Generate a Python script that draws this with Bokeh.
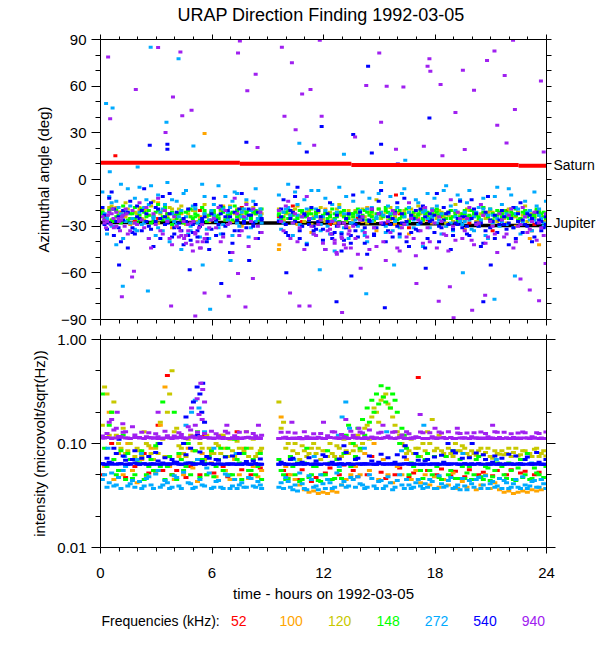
from bokeh.plotting import figure
from bokeh.models import Range1d, LinearAxis, LogAxis, LogScale, FixedTicker, PrintfTickFormatter
from bokeh.layouts import column
from bokeh.embed import file_html
from bokeh.resources import INLINE
from bokeh.core.properties import value

N = None
FONT = "Liberation Sans"

TITLE = "URAP Direction Finding  1992-03-05"
X_LABEL = "time - hours on 1992-03-05"
AZ_LABEL = "Azimuthal angle (deg)"
INT_LABEL = "intensity (microvolt/sqrt(Hz))"
LEGEND_TITLE = "Frequencies (kHz):"
freqs = ["52", "100", "120", "148", "272", "540", "940"]
freq_colors = ["#ff0000", "#ffa500", "#c8c800", "#00ff00", "#00aaff", "#0000ff", "#a020f0"]

hour_ticks = [0, 6, 12, 18, 24]
hour_minor = [1, 2, 3, 4, 5, 7, 8, 9, 10, 11, 13, 14, 15, 16, 17, 19, 20, 21, 22, 23]
az_ticks = [-90, -60, -30, 0, 30, 60, 90]
az_minor = [-80, -70, -50, -40, -20, -10, 10, 20, 40, 50, 70, 80]
int_ticks = [0.01, 0.1, 1.0]
int_minor = [0.02, 0.05, 0.2, 0.5]

# planet reference directions (deg)
saturn_start = [0, 7.5, 13.5, 22.5]
saturn_end = [7.5, 13.5, 22.5, 24]
saturn_deg = [10.7, 10.1, 9.4, 8.8]
jupiter_start = [0, 7.5, 13.5, 19.5]
jupiter_end = [7.5, 13.5, 19.5, 24]
jupiter_deg = [-27.6, -27.9, -28.5, -29.5]
planet_names = ["Saturn", "Jupiter"]
planet_label_deg = [9.2, -28.2]

# sample times (hours)
hours_a = [
    0.1, 0.35, 0.6, 0.85, 1.1, 1.35, 1.6, 1.85,
    2.1, 2.35, 2.6, 2.85, 3.1, 3.35, 3.6, 3.85,
    4.1, 4.35, 4.6, 4.85, 5.1, 5.35, 5.6, 5.85,
    6.1, 6.35, 6.6, 6.85, 7.1, 7.35, 7.6, 7.85,
    8.1, 8.35, 8.6,
    9.6, 9.85, 10.1, 10.35, 10.6, 10.85, 11.1, 11.35,
    11.6, 11.85, 12.1, 12.35, 12.6, 12.85, 13.1, 13.35,
    13.6, 13.85, 14.1, 14.35, 14.6, 14.85, 15.1, 15.35,
    15.6, 15.85, 16.1, 16.35, 16.6, 16.85, 17.1, 17.35,
    17.6, 17.85, 18.1, 18.35, 18.6, 18.85, 19.1, 19.35,
    19.6, 19.85, 20.1, 20.35, 20.6, 20.85, 21.1, 21.35,
    21.6, 21.85, 22.1, 22.35, 22.6, 22.85, 23.1, 23.35,
    23.6, 23.85,
]
hours_b = [
    0.22, 0.47, 0.72, 0.97, 1.22, 1.47, 1.72, 1.97,
    2.22, 2.47, 2.72, 2.97, 3.22, 3.47, 3.72, 3.97,
    4.22, 4.47, 4.72, 4.97, 5.22, 5.47, 5.72, 5.97,
    6.22, 6.47, 6.72, 6.97, 7.22, 7.47, 7.72, 7.97,
    8.22, 8.47, 8.67,
    9.72, 9.97, 10.22, 10.47, 10.72, 10.97, 11.22, 11.47,
    11.72, 11.97, 12.22, 12.47, 12.72, 12.97, 13.22, 13.47,
    13.72, 13.97, 14.22, 14.47, 14.72, 14.97, 15.22, 15.47,
    15.72, 15.97, 16.22, 16.47, 16.72, 16.97, 17.22, 17.47,
    17.72, 17.97, 18.22, 18.47, 18.72, 18.97, 19.22, 19.47,
    19.72, 19.97, 20.22, 20.47, 20.72, 20.97, 21.22, 21.47,
    21.72, 21.97, 22.22, 22.47, 22.72, 22.97, 23.22, 23.47,
    23.72, 23.97,
]

# ---------------- azimuth (deg) ----------------
az_52_a = [
    N, -24, N, N, -21, N, N, -27,
    N, -19, N, N, -25, N, -22, N,
    N, N, -28, N, N, -20, N, N,
    -23, N, N, -26, N, N, -18, N,
    N, -22, N,
    -24, N, N, -17, N, -27, N, N,
    -21, N, N, -29, N, N, -23, N,
    N, -25, N, N, -20, N, N, -28,
    N, N, -22, N, -31, N, N, -19,
    -26, N, N, -24, N, N, -21, N,
    N, -28, N, N, -23, N, -33, N,
    N, -20, N, N, -26, N, N, -29,
    -22, N,
]
az_52_x_h = [0.8, 15.9, 23.2]
az_52_x_v = [15.2, -10, -33]

az_100_a = [
    -21, N, -26, -18, N, -24, -29, N,
    -20, -27, N, -23, -15, N, -25, -31,
    N, -22, -28, N, -19, -24, N, -27,
    -23, N, -17, -26, N, -21, -30, N,
    -24, N, -20,
    -45, -26, N, -20, -29, N, -23, -34,
    N, -25, -19, N, -28, -22, N, -31,
    -24, N, -27, -18, N, -33, -21, N,
    -26, -29, N, -22, -35, N, -25, -19,
    N, -28, -23, N, -30, -20, N, -26,
    -32, N, -24, -27, N, -21, -29, N,
    -25, -22, N, -30, -26, N, -38, -23,
    N, -27,
]
az_100_x_h = [5.6, 9.62, 23.6]
az_100_x_v = [29.5, -42, -42]

az_120_a = [
    -20, -24, -17, -27, -22, -15, -25, -21,
    -18, -26, -23, -14, -28, -20, -24, -19,
    -22, -17, -29, -24, -20, -26, -16, -23,
    -21, -25, -18, -23, -27, -19, -22, -15,
    -24, -20, -26,
    -19, -26, -22, -28, -17, -24, -21, -29,
    -23, -18, -27, -21, -25, -16, -24, -20,
    -26, -22, -19, -28, -23, -13, -25, -21,
    -18, -24, -30, -20, -26, -22, -17, -27,
    -23, -19, -25, -21, -28, -24, -16, -22,
    -26, -20, -23, -29, -18, -25, -21, -27,
    -22, -28, -19, -24, -26, -17, -23, -25,
    -20, -27,
]
az_120_b = [
    -23, -18, -26, -21, -24, -19, -28, -22,
    -25, -20, -17, -27, -22, -24, -18, -26,
    -19, -25, -22, -20, -27, -18, -24, -21,
    -24, -20, -26, -17, -22, -25, -20, -23,
    -18, -25, -22,
    -27, -22, -25, -19, -23, -27, -20, -24,
    -21, -25, -22, -26, -19, -23, -27, -22,
    -20, -26, -24, -21, -27, -19, -23, -26,
    -25, -21, -23, -27, -19, -24, -22, -20,
    -26, -22, -20, -24, -23, -27, -21, -25,
    -19, -24, -27, -22, -25, -20, -24, -22,
    -25, -19, -24, -21, -23, -27, -22, -20,
    -24, -22,
]

az_148_a = [
    -22, -26, -19, -24, -28, -21, -25, -18,
    -23, -27, -20, -24, -16, -26, -22, -29,
    -25, -21, -27, -19, -24, -30, -22, -26,
    -20, -23, -18, -25, -21, -24, -19, -22,
    -23, -20, -25,
    -22, -24, -20, -23, -25, -21, -24, -19,
    -23, -26, -21, -24, -22, -27, -20, -25,
    -24, -19, -23, -26, -21, -25, -22, -18,
    -25, -22, -20, -24, -27, -21, -23, -26,
    -21, -24, -19, -22, -25, -20, -23, -27,
    -22, -25, -21, -24, -18, -23, -26, -20,
    -24, -21, -23, -19, -25, -22, -20, -24,
    -23, -21,
]
az_148_b = [
    -25, -20, -27, -23, -17, -26, -22, -28,
    -19, -24, -28, -21, -25, -18, -26, -23,
    -22, -28, -20, -25, -23, -18, -27, -21,
    -24, -19, -26, -22, -17, -23, -25, -20,
    -21, -26, -19,
    -25, -21, -23, -26, -20, -24, -22, -25,
    -20, -23, -25, -19, -24, -21, -26, -22,
    -21, -25, -20, -23, -26, -19, -24, -21,
    -22, -26, -24, -19, -23, -25, -20, -22,
    -25, -20, -23, -26, -21, -24, -27, -22,
    -24, -20, -23, -26, -22, -19, -24, -21,
    -20, -25, -22, -26, -21, -24, -23, -19,
    -22, -25,
]
az_148_c = [
    -21, -24, -26, -20, -23, -27, -22, -25,
    -26, -21, -23, -27, -20, -24, -25, -21,
    -23, -26, -21, -24, -22, -26, -20, -23,
    -22, -25, -21, -23, -26, -20, -24, -21,
    -25, -22, -24,
    -23, -21, -25, -22, -24, -20, -23, -22,
    -21, -24, -22, -23, -25, -21, -24, -23,
    -22, -23, -25, -21, -24, -22, -23, -20,
    -23, -20, -25, -22, -21, -24, -22, -25,
    -24, -22, -21, -23, -22, -25, -21, -24,
    -20, -23, -22, -25, -21, -24, -22, -23,
    -22, -24, -21, -23, -25, -20, -23, -22,
    -21, -24,
]

az_272_a = [
    -8, -35, -15, -42, -3, -20, -28, -12,
    -5, -18, -38, -25, -10, -33, -2, -22,
    -14, -45, -7, -30, -19, -37, -11, -26,
    -16, -4, -29, -21, -36, -9, -24, -13,
    -31, -6, -19,
    -10, -28, -3, -36, -16, -24, -41, -7,
    -19, -33, -12, -27, -46, -5, -22, -38,
    -14, -30, -8, -40, -18, -25, -2, -34,
    -11, -26, -37, -6, -21, -31, -15, -43,
    -9, -24, -17, -35, -4, -28, -20, -13,
    -27, -7, -33, -18, -12, -38, -23, -5,
    -16, -29, -10, -22, -35, -14, -26, -8,
    -19, -30,
]
az_272_b = [
    -22, -11, -30, -18, -38, -6, -25, -33,
    -29, -13, -4, -36, -21, -16, -40, -27,
    -24, -9, -35, -17, -28, -3, -32, -20,
    -27, -35, -11, -18, -8, -30, -19, -37,
    -14, -25, -28,
    -32, -19, -23, -8, -29, -13, -26, -35,
    -7, -24, -30, -16, -21, -34, -11, -28,
    -26, -20, -36, -12, -31, -9, -23, -17,
    -33, -18, -9, -29, -24, -13, -27, -20,
    -31, -12, -26, -7, -22, -33, -10, -29,
    -15, -32, -21, -26, -36, -19, -11, -30,
    -24, -6, -31, -19, -27, -21, -33, -17,
    -25, -14,
]
az_272_c = [
    -18, -25, -30, -14, -22, -27, -17, -32,
    -21, -28, -16, -24, -31, -19, -26, -13,
    -29, -20, -24, -33, -17, -27, -22, -38,
    -23, -31, -19, -26, -14, -28, -21, -25,
    -20, -27, -23,
    -26, -21, -18, -28, -23, -30, -19, -25,
    -24, -29, -20, -35, -26, -18, -31, -22,
    -28, -23, -33, -19, -27, -24, -21, -30,
    -22, -27, -31, -24, -18, -26, -29, -21,
    -25, -19, -28, -22, -30, -17, -24, -27,
    -21, -26, -24, -30, -19, -23, -28, -25,
    -27, -22, -25, -18, -29, -24, -20, -26,
    -23, -28,
]
az_272_x_h = [0.3, 0.65, 2.7, 4.2, 3.55, 5.0, 10.7, 13.1, 16.4, 1.2, 2.55, 5.9, 14.3, 21.2,
              0.5, 2.0, 5.5, 11.8, 19.5, 22.3, 7.0, 15.8]
az_272_x_v = [48.8, 46, 85, 77.7, 36.8, 21.6, 23.3, 16.3, 12.4, -68.6, -71.6, -83.4, -73.5, -77,
              5, 8, -55, -58, -60, -62, -52, -55]

az_540_a = [
    -18, -32, -8, -27, -40, -22, -14, -35,
    -25, -6, -30, -43, -19, -11, -28, -37,
    -21, -33, -27, -39, -16, -30, -24, -45,
    -12, -29, -35, -20, -41, -26, -9, -31,
    -23, -16, -34,
    -27, -13, -36, -21, -5, -30, -42, -18,
    -32, -24, -45, -15, -34, -28, -39, -22,
    -10, -37, -26, -48, -19, -31, -7, -40,
    -29, -21, -35, -12, -43, -25, -33, -17,
    -38, -26, -9, -31, -22, -45, -28, -14,
    -24, -36, -19, -30, -41, -11, -27, -34,
    -20, -32, -25, -38, -15, -29, -23, -37,
    -26, -31,
]
az_540_b = [
    -29, -12, -36, -24, -20, -44, -31, -17,
    -33, -22, -15, -27, -38, -24, -9, -31,
    -28, -42, -19, -34, -37, -25, -40, -32,
    -36, -17, -24, -47, -21, -33, -28, -19,
    -30, -38, -25,
    -19, -34, -25, -11, -38, -23, -29, -33,
    -20, -39, -27, -35, -23, -46, -31, -36,
    -33, -21, -41, -27, -36, -14, -29, -24,
    -37, -15, -28, -40, -23, -32, -19, -44,
    -22, -34, -40, -18, -29, -36, -25, -31,
    -35, -13, -28, -43, -21, -31, -38, -26,
    -29, -42, -18, -27, -34, -22, -40, -28,
    -33, -24,
]
az_540_c = [
    -23, -28, -19, -31, -26, -21, -34, -24,
    -20, -27, -32, -18, -25, -29, -22, -35,
    -31, -25, -36, -29, -33, -27, -38, -22,
    -26, -22, -30, -24, -33, -19, -27, -23,
    -28, -21, -26,
    -24, -29, -20, -27, -33, -22, -26, -30,
    -27, -32, -22, -38, -30, -35, -25, -41,
    -29, -24, -31, -26, -35, -22, -28, -33,
    -25, -30, -22, -27, -34, -20, -28, -24,
    -27, -23, -30, -26, -21, -32, -29, -24,
    -30, -25, -22, -28, -33, -26, -23, -29,
    -24, -28, -31, -22, -26, -30, -25, -21,
    -27, -29,
]
az_540_x_h = [3.6, 3.6, 2.65, 11.1, 11.9, 7.85, 14.4, 17.7, 13.6, 15.1, 14.6, 6.5, 12.7, 15.3, 20.6,
              1.0, 4.8, 10.0, 13.5, 17.5, 21.0, 8.0, 16.0]
az_540_x_v = [22.7, 19.5, 22, 17.7, 34, 24, 72.8, 39.6, 29, 22.7, 17, -66.8, -78.6, -82.5, -78.6,
              -55, -58, -60, -62, -57, -55, -52, 10]

az_940_a = [
    -24, -27, -22, -30, -26, -19, -33, -28,
    -15, -31, -38, -22, -12, -35, -27, -42,
    -30, -36, -41, -28, -34, -44, -38, -31,
    -25, -18, -37, -29, -47, -22, -33, -16,
    -27, -38, -21,
    -20, -33, -14, -28, -40, -24, -11, -30,
    -36, -26, -45, -32, -39, -28, -42, -35,
    -30, -48, -24, -37, -19, -43, -28, -52,
    -34, -22, -46, -29, -15, -38, -26, -41,
    -31, -20, -44, -27, -36, -13, -39, -25,
    -33, -18, -42, -28, -23, -37, -30, -47,
    -26, -35, -19, -40, -29, -24, -32, -21,
    -28, -36,
]
az_940_b = [
    -28, -21, -31, -25, -23, -35, -20, -29,
    -26, -18, -44, -29, -33, -20, -38, -24,
    -37, -27, -33, -46, -40, -29, -35, -26,
    -31, -40, -20, -28, -12, -36, -24, -43,
    -19, -30, -34,
    -27, -17, -38, -22, -31, -45, -25, -35,
    -29, -41, -33, -27, -48, -37, -30, -44,
    -38, -26, -34, -45, -31, -22, -40, -27,
    -20, -44, -31, -37, -25, -49, -33, -18,
    -40, -28, -24, -35, -46, -30, -21, -38,
    -25, -39, -29, -16, -41, -27, -35, -22,
    -37, -23, -44, -30, -18, -34, -27, -39,
    -31, -22,
]
az_940_c_h = [0.2, 0.4, 0.55, 0.7, 0.85, 1.0, 1.15, 1.3, 0.3, 0.65, 1.05, 1.4,
              4.3, 4.5, 4.7, 4.9, 5.1, 5.3, 5.5, 4.6, 5.0, 5.4,
              12.4, 12.6, 12.8, 13.0, 13.2, 13.4, 12.7, 13.1]
az_940_c_v = [-26, -23, -29, -25, -21, -27, -24, -30, -31, -19, -33, -22,
              -33, -38, -29, -42, -35, -31, -40, -36, -27, -44,
              -35, -41, -30, -38, -44, -33, -47, -28]
az_940_x_h = [0.41, 0.52, 1.9, 3.1, 3.5, 3.9, 4.3, 4.4, 4.9, 7.4, 7.5, 7.9, 8.35, 8.45,
              9.76, 9.9, 10.3, 10.5, 10.85, 11.3, 11.5, 11.8, 11.9, 13.7, 14.3, 15.0, 15.1,
              15.4, 15.9, 16.3, 17.4, 17.6, 17.7, 17.75, 18.3, 18.4, 19.1, 19.5, 19.6, 20.1,
              20.8, 21.2, 21.35, 21.75, 21.85, 22.2, 22.3, 23.7, 23.85,
              1.7, 1.15, 5.1, 3.8, 6.9, 7.8, 7.4, 10.2, 10.7, 11.25, 13.0, 18.2, 19.0, 20.0,
              20.7, 23.6, 23.95, 1.8, 5.6, 8.2, 14.0, 17.0, 18.8, 23.1, 22.6]
az_940_x_v = [78.8, 39, 57.8, 84.8, 30.2, 53, 82, 41, 44.5, 81.4, 89, 57, 67.7, 20.6,
              85, 40.7, 75, 32, 55, 57.8, 22, 89.5, 40.7, 27.4, 60.4, 81.4, 36.8,
              60, 19.5, 59.5, 21.4, 72.8, 77.7, 69.6, 61, 15.2, 43, 70.2, 19.3, 57.4,
              76.5, 82.6, 34.9, 66.8, 23.5, 89.5, 45, 63.4, 17.7,
              -62.6, -75.4, -87.7, -81.4, -75, -82, -60.4, -72.9, -81.4, -81.4, -85.5, -78.2, -88.9, -84,
              -74.4, -78, -54, -59, -72.9, -63.6, -57, -66.8, -69, -71, -64]

# ---------------- intensity (microvolt/sqrt(Hz)) ----------------
int_52_a = [
    0.05, N, 0.1, N, 0.055, 0.047, N, 0.06,
    N, 0.08, 0.052, N, 0.15, 0.055, 0.45, 0.05,
    0.055, N, 0.047, 0.06, N, 0.05, 0.12, N,
    0.052, N, 0.06, 0.048, N, 0.13, 0.056, N,
    0.05, N, 0.058,
    N, 0.055, 0.05, N, 0.045, 0.056, N, 0.043,
    0.047, N, 0.052, 0.058, N, 0.05, 0.062, N,
    0.055, 0.048, N, 0.05, 0.075, N, 0.053, 0.046,
    N, 0.05, 0.058, N, 0.047, 0.052, 0.43, N,
    0.055, N, 0.05, 0.057, N, 0.049, 0.054, N,
    0.048, 0.056, N, 0.05, 0.053, N, 0.049, 0.055,
    N, 0.05, 0.056, N, 0.052, 0.054, N, 0.05,
    0.053, N,
]
int_100_a = [
    0.06, 0.2, 0.045, 0.08, 0.05, 0.1, 0.055, 0.042,
    0.07, 0.047, 0.09, 0.052, 0.15, 0.35, 0.06, 0.045,
    0.075, 0.05, 0.09, 0.058, 0.043, 0.08, 0.05, 0.065,
    0.048, 0.12, 0.055, 0.045, 0.07, 0.05, 0.09, 0.046,
    0.06, 0.048, 0.055,
    0.18, 0.06, 0.05, 0.045, 0.04, 0.036, 0.034, 0.035,
    0.033, 0.034, 0.033, 0.035, 0.034, 0.04, 0.045, 0.05,
    0.06, 0.05, 0.08, 0.055, 0.1, 0.045, 0.07, 0.05,
    0.042, 0.06, 0.05, 0.07, 0.045, 0.055, 0.042, 0.05,
    0.04, 0.048, 0.038, 0.045, 0.04, 0.052, 0.037, 0.043,
    0.038, 0.045, 0.036, 0.04, 0.05, 0.037, 0.042, 0.036,
    0.034, 0.035, 0.033, 0.034, 0.035, 0.034, 0.036, 0.035,
    0.036, 0.037,
]
int_120_a = [
    0.15, 0.3, 0.2, 0.12, 0.09, 0.08, 0.1, 0.075,
    0.085, 0.13, 0.095, 0.07, 0.08, 0.11, 0.2, 0.5,
    0.14, 0.09, 0.075, 0.12, 0.085, 0.1, 0.07, 0.09,
    0.08, 0.095, 0.12, 0.075, 0.085, 0.105, 0.08, 0.13,
    0.09, 0.075, 0.085,
    0.25, 0.16, 0.1, 0.085, 0.08, 0.095, 0.075, 0.09,
    0.08, 0.07, 0.085, 0.1, 0.075, 0.09, 0.11, 0.08,
    0.085, 0.12, 0.1, 0.15, 0.18, 0.2, 0.26, 0.3,
    0.22, 0.15, 0.12, 0.095, 0.085, 0.08, 0.09, 0.1,
    0.13, 0.17, 0.09, 0.085, 0.075, 0.08, 0.1, 0.085,
    0.09, 0.075, 0.08, 0.085, 0.078, 0.09, 0.072, 0.08,
    0.085, 0.08, 0.075, 0.09, 0.078, 0.085, 0.08, 0.088,
    0.075, 0.085,
]
int_120_b = [
    0.35, 0.12, 0.25, 0.1, 0.14, 0.085, 0.07, 0.09,
    0.075, 0.1, 0.08, 0.09, 0.16, 0.075, 0.3, 0.13,
    0.095, 0.08, 0.11, 0.085, 0.07, 0.09, 0.12, 0.08,
    0.1, 0.08, 0.09, 0.11, 0.075, 0.09, 0.085, 0.075,
    0.11, 0.08, 0.09,
    0.14, 0.09, 0.075, 0.1, 0.07, 0.085, 0.08, 0.1,
    0.09, 0.085, 0.075, 0.08, 0.095, 0.075, 0.085, 0.1,
    0.095, 0.085, 0.14, 0.11, 0.22, 0.16, 0.28, 0.24,
    0.18, 0.13, 0.1, 0.08, 0.11, 0.09, 0.075, 0.085,
    0.1, 0.085, 0.12, 0.08, 0.09, 0.075, 0.085, 0.095,
    0.08, 0.085, 0.077, 0.09, 0.082, 0.075, 0.085, 0.079,
    0.078, 0.09, 0.082, 0.076, 0.085, 0.08, 0.075, 0.09,
    0.08, 0.076,
]
int_148_a = [
    0.09, 0.15, 0.07, 0.055, 0.12, 0.08, 0.046, 0.065,
    0.085, 0.05, 0.07, 0.095, 0.06, 0.045, 0.075, 0.2,
    0.08, 0.055, 0.1, 0.065, 0.13, 0.07, 0.05, 0.085,
    0.06, 0.09, 0.075, 0.05, 0.11, 0.065, 0.08, 0.055,
    0.07, 0.06, 0.045,
    0.055, 0.045, 0.075, 0.05, 0.043, 0.065, 0.047, 0.06,
    0.044, 0.05, 0.085, 0.045, 0.07, 0.046, 0.12, 0.06,
    0.075, 0.09, 0.12, 0.16, 0.2, 0.24, 0.28, 0.34,
    0.3, 0.2, 0.14, 0.09, 0.065, 0.08, 0.055, 0.07,
    0.055, 0.075, 0.047, 0.065, 0.05, 0.085, 0.046, 0.06,
    0.052, 0.045, 0.07, 0.048, 0.06, 0.044, 0.055, 0.046,
    0.05, 0.065, 0.045, 0.058, 0.047, 0.08, 0.046, 0.052,
    0.045, 0.06,
]
int_148_b = [
    0.3, 0.06, 0.2, 0.05, 0.085, 0.045, 0.07, 0.05,
    0.065, 0.045, 0.06, 0.055, 0.1, 0.25, 0.06, 0.05,
    0.045, 0.07, 0.06, 0.05, 0.085, 0.047, 0.065, 0.075,
    0.048, 0.07, 0.055, 0.09, 0.05, 0.07, 0.045, 0.09,
    0.055, 0.05, 0.08,
    0.07, 0.05, 0.046, 0.06, 0.065, 0.045, 0.09, 0.05,
    0.06, 0.043, 0.05, 0.065, 0.046, 0.055, 0.08, 0.15,
    0.1, 0.14, 0.17, 0.22, 0.26, 0.3, 0.36, 0.25,
    0.22, 0.26, 0.1, 0.12, 0.05, 0.06, 0.075, 0.046,
    0.08, 0.05, 0.06, 0.045, 0.075, 0.055, 0.046, 0.07,
    0.046, 0.06, 0.05, 0.075, 0.045, 0.058, 0.048, 0.065,
    0.06, 0.046, 0.055, 0.044, 0.07, 0.05, 0.045, 0.058,
    0.05, 0.047,
]
int_272_a = [
    0.045, 0.038, 0.052, 0.04, 0.037, 0.06, 0.041, 0.038,
    0.043, 0.039, 0.048, 0.037, 0.055, 0.04, 0.042, 0.038,
    0.047, 0.037, 0.065, 0.041, 0.038, 0.045, 0.039, 0.052,
    0.038, 0.044, 0.037, 0.049, 0.039, 0.037, 0.042, 0.038,
    0.046, 0.038, 0.04,
    0.038, 0.037, 0.043, 0.036, 0.035, 0.041, 0.036, 0.045,
    0.039, 0.05, 0.037, 0.042, 0.038, 0.06, 0.043, 0.039,
    0.045, 0.048, 0.04, 0.038, 0.046, 0.037, 0.044, 0.039,
    0.042, 0.038, 0.05, 0.037, 0.04, 0.038, 0.045, 0.037,
    0.038, 0.043, 0.037, 0.041, 0.039, 0.047, 0.038, 0.036,
    0.039, 0.044, 0.038, 0.047, 0.04, 0.037, 0.043, 0.039,
    0.037, 0.042, 0.038, 0.045, 0.037, 0.04, 0.039, 0.044,
    0.038, 0.041,
]
int_272_b = [
    0.05, 0.042, 0.039, 0.047, 0.055, 0.039, 0.044, 0.07,
    0.037, 0.046, 0.04, 0.051, 0.038, 0.044, 0.037, 0.049,
    0.039, 0.053, 0.042, 0.037, 0.07, 0.04, 0.058, 0.037,
    0.043, 0.038, 0.051, 0.037, 0.045, 0.04, 0.038, 0.047,
    0.039, 0.043, 0.037,
    0.042, 0.047, 0.038, 0.04, 0.052, 0.037, 0.049, 0.038,
    0.036, 0.041, 0.045, 0.037, 0.052, 0.04, 0.038, 0.047,
    0.038, 0.041, 0.037, 0.05, 0.039, 0.043, 0.037, 0.048,
    0.036, 0.044, 0.04, 0.045, 0.037, 0.042, 0.039, 0.041,
    0.045, 0.037, 0.049, 0.038, 0.044, 0.037, 0.04, 0.046,
    0.036, 0.041, 0.045, 0.037, 0.049, 0.041, 0.038, 0.046,
    0.044, 0.037, 0.041, 0.038, 0.048, 0.037, 0.043, 0.038,
    0.045, 0.037,
]
int_272_x_h = [0.4, 1.3, 2.2, 4.6, 4.9, 5.1, 5.3, 5.6, 6.1, 7.3, 10.4, 11.5, 12.8, 13.0, 13.2,
               13.4, 14.2, 15.4, 16.2, 17.4, 19.5, 21.3, 23.2]
int_272_x_v = [0.09, 0.075, 0.08, 0.15, 0.2, 0.26, 0.22, 0.13, 0.09, 0.08, 0.07, 0.075, 0.12, 0.18, 0.25,
               0.14, 0.09, 0.13, 0.085, 0.15, 0.08, 0.07, 0.065]
int_540_a = [
    0.064, 0.063, 0.065, 0.063, 0.064, 0.063, 0.064, 0.065,
    0.063, 0.064, 0.063, 0.064, 0.063, 0.065, 0.063, 0.064,
    0.064, 0.063, 0.064, 0.065, 0.063, 0.064, 0.063, 0.064,
    0.063, 0.064, 0.063, 0.063, 0.064, 0.063, 0.063, 0.064,
    0.063, 0.064, 0.063,
    0.063, 0.064, 0.063, 0.063, 0.064, 0.063, 0.064, 0.063,
    0.064, 0.063, 0.064, 0.063, 0.063, 0.064, 0.063, 0.064,
    0.063, 0.064, 0.063, 0.064, 0.063, 0.063, 0.064, 0.063,
    0.064, 0.063, 0.063, 0.064, 0.063, 0.064, 0.063, 0.063,
    0.063, 0.064, 0.063, 0.063, 0.064, 0.063, 0.064, 0.063,
    0.064, 0.063, 0.063, 0.064, 0.063, 0.064, 0.063, 0.063,
    0.063, 0.064, 0.063, 0.063, 0.064, 0.063, 0.063, 0.064,
    0.063, 0.063,
]
int_540_b = [
    0.063, 0.066, 0.09, 0.064, 0.076, 0.063, 0.07, 0.064,
    0.072, 0.063, 0.064, 0.082, 0.063, 0.073, 0.063, 0.066,
    0.063, 0.1, 0.065, 0.063, 0.12, 0.067, 0.075, 0.064,
    0.07, 0.063, 0.074, 0.063, 0.063, 0.08, 0.064, 0.063,
    0.068, 0.063, 0.063,
    0.066, 0.063, 0.07, 0.063, 0.064, 0.063, 0.073, 0.063,
    0.063, 0.078, 0.063, 0.066, 0.063, 0.064, 0.082, 0.063,
    0.07, 0.063, 0.064, 0.076, 0.063, 0.066, 0.063, 0.073,
    0.064, 0.078, 0.063, 0.064, 0.063, 0.08, 0.063, 0.068,
    0.063, 0.074, 0.063, 0.066, 0.063, 0.085, 0.063, 0.072,
    0.063, 0.064, 0.081, 0.063, 0.07, 0.063, 0.076, 0.064,
    0.063, 0.079, 0.063, 0.064, 0.063, 0.074, 0.063, 0.082,
    0.063, 0.07,
]
int_540_c = [
    0.064, 0.072, 0.063, 0.08, 0.064, 0.069, 0.063, 0.085,
    0.063, 0.064, 0.075, 0.063, 0.068, 0.063, 0.064, 0.07,
    0.066, 0.063, 0.078, 0.09, 0.064, 0.083, 0.063, 0.072,
    0.063, 0.069, 0.063, 0.064, 0.076, 0.063, 0.063, 0.067,
    0.063, 0.064, 0.071,
    0.063, 0.064, 0.063, 0.072, 0.063, 0.066, 0.064, 0.063,
    0.068, 0.063, 0.075, 0.064, 0.063, 0.071, 0.063, 0.064,
    0.063, 0.072, 0.064, 0.063, 0.068, 0.063, 0.079, 0.064,
    0.063, 0.066, 0.063, 0.074, 0.064, 0.063, 0.069, 0.063,
    0.07, 0.063, 0.064, 0.077, 0.063, 0.064, 0.081, 0.063,
    0.064, 0.073, 0.063, 0.064, 0.078, 0.063, 0.066, 0.063,
    0.072, 0.063, 0.064, 0.076, 0.063, 0.07, 0.064, 0.063,
    0.066, 0.063,
]
int_540_x_h = [4.6, 5.0, 5.2, 5.35, 5.5, 5.45, 5.6, 1.0, 3.2, 13.1, 16.4, 18.7, 20.0]
int_540_x_v = [0.18, 0.25, 0.35, 0.3, 0.38, 0.2, 0.16, 0.11, 0.1, 0.095, 0.095, 0.1, 0.1]
int_940_a = [
    0.113, 0.114, 0.112, 0.113, 0.115, 0.113, 0.112, 0.114,
    0.113, 0.112, 0.114, 0.113, 0.112, 0.113, 0.114, 0.112,
    0.113, 0.114, 0.112, 0.115, 0.113, 0.112, 0.114, 0.113,
    0.112, 0.113, 0.114, 0.112, 0.113, 0.112, 0.113, 0.114,
    0.113, 0.112, 0.113,
    0.112, 0.113, 0.112, 0.113, 0.112, 0.111, 0.112, 0.113,
    0.112, 0.113, 0.112, 0.114, 0.113, 0.112, 0.113, 0.112,
    0.114, 0.113, 0.112, 0.113, 0.115, 0.113, 0.112, 0.114,
    0.113, 0.112, 0.114, 0.113, 0.112, 0.113, 0.114, 0.112,
    0.112, 0.113, 0.112, 0.113, 0.112, 0.114, 0.112, 0.113,
    0.113, 0.112, 0.113, 0.112, 0.113, 0.112, 0.113, 0.112,
    0.112, 0.113, 0.112, 0.113, 0.112, 0.113, 0.112, 0.113,
    0.112, 0.112,
]
int_940_b = [
    0.113, 0.16, 0.135, 0.117, 0.128, 0.113, 0.145, 0.114,
    0.128, 0.116, 0.113, 0.124, 0.112, 0.131, 0.113, 0.118,
    0.127, 0.113, 0.145, 0.118, 0.128, 0.17, 0.114, 0.131,
    0.124, 0.113, 0.131, 0.112, 0.119, 0.128, 0.113, 0.115,
    0.125, 0.113, 0.12,
    0.128, 0.115, 0.112, 0.126, 0.114, 0.13, 0.113, 0.124,
    0.115, 0.112, 0.119, 0.13, 0.113, 0.122, 0.114, 0.131,
    0.113, 0.129, 0.114, 0.135, 0.112, 0.126, 0.113, 0.118,
    0.128, 0.113, 0.121, 0.13, 0.113, 0.116, 0.129, 0.112,
    0.127, 0.113, 0.129, 0.114, 0.13, 0.112, 0.126, 0.113,
    0.126, 0.116, 0.113, 0.129, 0.125, 0.113, 0.13, 0.114,
    0.128, 0.112, 0.114, 0.126, 0.129, 0.113, 0.116, 0.127,
    0.113, 0.129,
]
int_940_c = [
    0.118, 0.125, 0.113, 0.14, 0.116, 0.13, 0.112, 0.121,
    0.114, 0.112, 0.127, 0.113, 0.116, 0.112, 0.119, 0.113,
    0.115, 0.122, 0.113, 0.135, 0.15, 0.117, 0.125, 0.113,
    0.113, 0.118, 0.112, 0.126, 0.113, 0.114, 0.112, 0.13,
    0.113, 0.118, 0.112,
    0.112, 0.113, 0.128, 0.112, 0.113, 0.112, 0.116, 0.112,
    0.113, 0.125, 0.112, 0.114, 0.129, 0.113, 0.117, 0.112,
    0.12, 0.113, 0.126, 0.112, 0.115, 0.113, 0.128, 0.114,
    0.113, 0.13, 0.115, 0.112, 0.124, 0.113, 0.114, 0.127,
    0.112, 0.116, 0.113, 0.126, 0.112, 0.114, 0.112, 0.125,
    0.113, 0.112, 0.127, 0.113, 0.112, 0.116, 0.112, 0.128,
    0.112, 0.113, 0.124, 0.112, 0.113, 0.127, 0.112, 0.113,
    0.125, 0.112,
]
int_940_x_h = [0.6, 0.9, 1.2, 3.1, 4.9, 5.2, 5.4, 5.5, 5.6, 5.3, 6.8, 8.5, 10.3, 12.0, 13.2,
               13.9, 15.2, 17.2, 18.0, 19.2, 21.1]
int_940_x_v = [0.17, 0.2, 0.155, 0.2, 0.22, 0.27, 0.38, 0.33, 0.25, 0.19, 0.15, 0.15, 0.16, 0.16, 0.17,
               0.14, 0.15, 0.19, 0.14, 0.14, 0.15]

az_series = [
    [(hours_a, az_52_a), (az_52_x_h, az_52_x_v)],
    [(hours_a, az_100_a), (az_100_x_h, az_100_x_v)],
    [(hours_a, az_120_a), (hours_b, az_120_b)],
    [(hours_a, az_148_a), (hours_b, az_148_b), (hours_a, az_148_c)],
    [(hours_a, az_272_a), (hours_b, az_272_b), (hours_a, az_272_c), (az_272_x_h, az_272_x_v)],
    [(hours_a, az_540_a), (hours_b, az_540_b), (hours_b, az_540_c), (az_540_x_h, az_540_x_v)],
    [(hours_a, az_940_a), (hours_b, az_940_b), (az_940_c_h, az_940_c_v), (az_940_x_h, az_940_x_v)],
]
int_series = [
    [(hours_a, int_52_a)],
    [(hours_b, int_100_a)],
    [(hours_a, int_120_a), (hours_b, int_120_b)],
    [(hours_b, int_148_a), (hours_a, int_148_b)],
    [(hours_a, int_272_a), (hours_b, int_272_b), (int_272_x_h, int_272_x_v)],
    [(hours_a, int_540_a), (hours_b, int_540_b), (hours_a, int_540_c), (int_540_x_h, int_540_x_v)],
    [(hours_a, int_940_a), (hours_b, int_940_b), (hours_a, int_940_c), (int_940_x_h, int_940_x_v)],
]

W = 598
LEFT = 100
FRAME_W = 451
RIGHT = W - LEFT - FRAME_W


def blank_labels(ax, ticks):
    overrides = {}
    for t in ticks:
        overrides[t] = ""
        overrides[str(t)] = ""
    ax.major_label_overrides = overrides


def style_axis(ax, major_out, minor_out, labels, ticks):
    ax.axis_line_color = "black"
    ax.axis_line_width = 1
    ax.major_tick_line_color = "black"
    ax.minor_tick_line_color = "black"
    ax.major_tick_in = 0
    ax.minor_tick_in = 0
    ax.major_tick_out = major_out
    ax.minor_tick_out = minor_out
    ax.major_label_text_font = FONT
    ax.major_label_text_color = "black"
    ax.major_label_text_font_size = "15px"
    ax.axis_label_text_font = FONT
    ax.axis_label_text_font_style = "normal"
    ax.axis_label_text_font_size = "15px"
    ax.axis_label_text_color = "black"
    if labels:
        ax.major_label_standoff = 5
    else:
        ax.major_label_standoff = 0
        blank_labels(ax, ticks)


def add_marks(p, pairs, color, w, h):
    xs, ys = [], []
    for hs, vs in pairs:
        for t, v in zip(hs, vs):
            if v is not None:
                xs.append(t)
                ys.append(v)
    p.rect(x=xs, y=ys, width=w, height=h, width_units="screen", height_units="screen",
           fill_color=color, line_color=None)


def strip(height):
    s = figure(width=W, height=height, x_range=Range1d(0, FRAME_W), y_range=Range1d(0, height),
               output_backend="svg", toolbar_location=None,
               x_axis_location=None, y_axis_location=None,
               min_border_left=LEFT, min_border_right=RIGHT, min_border_top=0, min_border_bottom=0)
    s.outline_line_color = None
    s.grid.visible = False
    s.background_fill_color = "white"
    s.border_fill_color = "white"
    return s


# ---------------- title strip ----------------
p0 = strip(31)
p0.text(x=[FRAME_W / 2], y=[17], text=[TITLE], text_font=value(FONT), text_font_size="18px",
        text_color="black", text_align="center", text_baseline="middle")

# ---------------- top panel ----------------
p1 = figure(width=W, height=299, x_range=Range1d(0, 24), y_range=Range1d(-90, 90),
            output_backend="svg", toolbar_location=None,
            x_axis_location=None, y_axis_location=None,
            min_border_left=LEFT, min_border_right=RIGHT,
            min_border_top=8, min_border_bottom=11)
p1.outline_line_color = None
p1.grid.visible = False
p1.background_fill_color = "white"
p1.border_fill_color = "white"

ax = LinearAxis(ticker=FixedTicker(ticks=az_ticks, minor_ticks=az_minor))
style_axis(ax, 9, 5, True, az_ticks)
ax.axis_label = AZ_LABEL
ax.axis_label_standoff = 6
p1.add_layout(ax, "left")

# right axis: ticks every 10 deg, planet names as labels
ax = LinearAxis(ticker=FixedTicker(ticks=planet_label_deg, minor_ticks=az_ticks + az_minor))
style_axis(ax, 0, 5, True, planet_label_deg)
ax.major_label_text_font_size = "14px"
ax.major_label_standoff = 2
overrides = {}
for deg, name in zip(planet_label_deg, planet_names):
    overrides[deg] = name
    overrides[str(deg)] = name
ax.major_label_overrides = overrides
p1.add_layout(ax, "right")

for side, mo, mi in (("below", 6, 4), ("above", 5, 3)):
    ax = LinearAxis(ticker=FixedTicker(ticks=hour_ticks, minor_ticks=hour_minor))
    style_axis(ax, mo, mi, False, hour_ticks)
    p1.add_layout(ax, side)

p1.segment(x0=jupiter_start, y0=jupiter_deg, x1=jupiter_end, y1=jupiter_deg,
           line_color="black", line_width=3.5)
for pairs, color in zip(az_series, freq_colors):
    add_marks(p1, pairs, color, 4, 3)
p1.segment(x0=saturn_start, y0=saturn_deg, x1=saturn_end, y1=saturn_deg,
           line_color="#ff0000", line_width=4)

# ---------------- bottom panel ----------------
p2 = figure(width=W, height=274, x_range=Range1d(0, 24), y_range=Range1d(0.01, 1.0),
            y_axis_type="log",
            output_backend="svg", toolbar_location=None,
            x_axis_location=None, y_axis_location=None,
            min_border_left=LEFT, min_border_right=RIGHT,
            min_border_top=9, min_border_bottom=55)
p2.y_scale = LogScale()
p2.outline_line_color = None
p2.grid.visible = False
p2.background_fill_color = "white"
p2.border_fill_color = "white"

for side, labels in (("left", True), ("right", False)):
    ax = LogAxis(ticker=FixedTicker(ticks=int_ticks, minor_ticks=int_minor),
                 formatter=PrintfTickFormatter(format="%.2f"))
    style_axis(ax, 9, 5, labels, int_ticks)
    if labels:
        ax.axis_label = INT_LABEL
        ax.axis_label_standoff = 6
    p2.add_layout(ax, side)
for side, mo, mi, labels in (("below", 6, 4, True), ("above", 5, 3, False)):
    ax = LinearAxis(ticker=FixedTicker(ticks=hour_ticks, minor_ticks=hour_minor))
    style_axis(ax, mo, mi, labels, hour_ticks)
    if labels:
        ax.axis_label = X_LABEL
        ax.major_label_standoff = 14
        ax.axis_label_standoff = 4
    p2.add_layout(ax, side)

for pairs, color in zip(int_series, freq_colors):
    add_marks(p2, pairs, color, 5, 3)

# ---------------- legend strip ----------------
p3 = strip(36)
p3.text(x=[1], y=[20], text=[LEGEND_TITLE], text_font=value(FONT),
        text_font_size="14px", text_color="black", text_baseline="middle")
leg_x = [132 + 49 * i for i in range(len(freqs))]
p3.text(x=leg_x, y=[20] * len(freqs), text=freqs, text_font=value(FONT),
        text_font_size="14px", text_color=freq_colors, text_baseline="middle")

layout = column(p0, p1, p2, p3, spacing=0)
open("out.html", "w").write(file_html(layout, INLINE))
